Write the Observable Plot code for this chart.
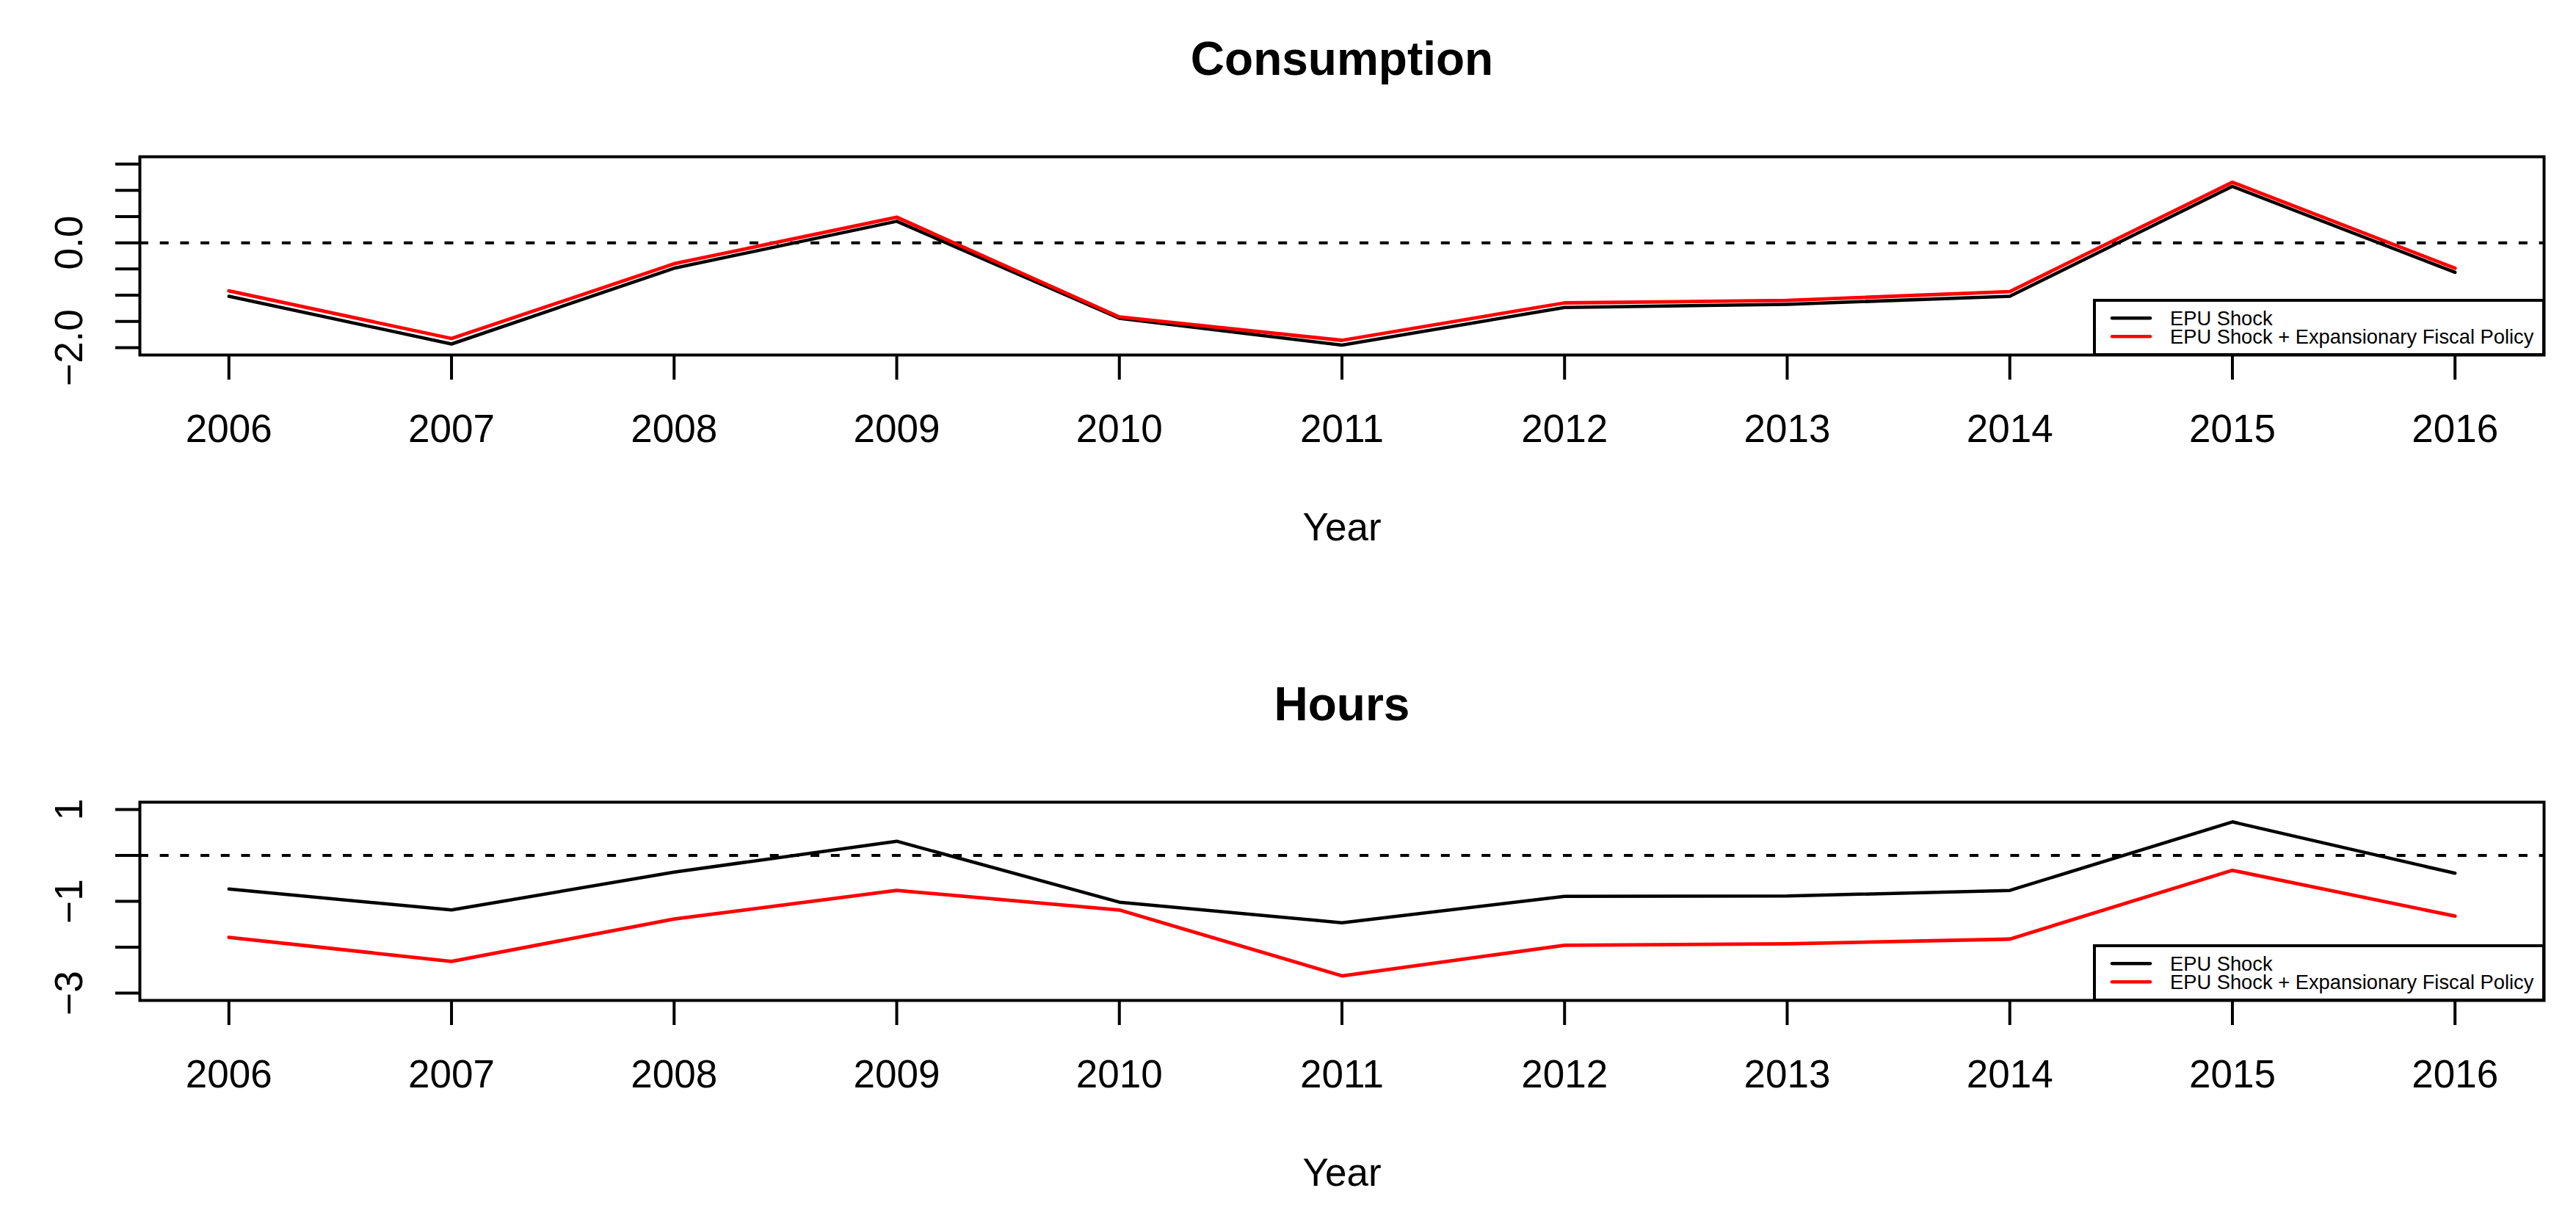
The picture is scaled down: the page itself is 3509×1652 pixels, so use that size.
<!DOCTYPE html>
<html>
<head>
<meta charset="utf-8">
<script src="https://cdn.jsdelivr.net/npm/d3@7"></script>
<script src="https://cdn.jsdelivr.net/npm/@observablehq/plot@0.6"></script>
<style>
  html, body { margin: 0; padding: 0; background: #fff; }
  #chart { position: relative; width: 3509px; height: 1652px; overflow: hidden; background: #fff; }
  .panel { position: relative; width: 3509px; height: 826px; }
  .panel svg.legend { position: absolute; }
</style>
</head>
<body>
<div id="chart"></div>
<script>
// ---------- data ----------
const years = [2006, 2007, 2008, 2009, 2010, 2011, 2012, 2013, 2014, 2015, 2016];
const seriesNames = ["EPU Shock", "EPU Shock + Expansionary Fiscal Policy"];
const seriesColors = ["#000000", "#ff0000"];

const consumptionEPU       = [-1.02, -1.93, -0.485, 0.41, -1.44, -1.95, -1.234, -1.173, -1.02, 1.075, -0.564];
const consumptionEPUFiscal = [-0.918, -1.825, -0.40, 0.488, -1.415, -1.86, -1.146, -1.10, -0.93, 1.154, -0.485];

const hoursEPU       = [-0.731, -1.189, -0.363, 0.309, -1.019, -1.467, -0.891, -0.885, -0.763, 0.731, -0.389];
const hoursEPUFiscal = [-1.787, -2.309, -1.387, -0.763, -1.189, -2.625, -1.957, -1.925, -1.824, -0.325, -1.323];

const consumptionTicks = [-2, -1.5, -1, -0.5, 0, 0.5, 1, 1.5];
const consumptionTickLabels = [{value: -2, label: "\u22122.0"}, {value: 0, label: "0.0"}];
const hoursTicks = [-3, -2, -1, 0, 1];
const hoursTickLabels = [{value: -3, label: "\u22123"}, {value: -1, label: "\u22121"}, {value: 1, label: "1"}];

const consumptionYLimits = [-2, 1.5];
const hoursYLimits = [-3, 1];

// ---------- helpers ----------
const FONT = "'Liberation Sans', Arial, Helvetica, sans-serif";
const W = 3509, H = 826;
const ML = 190, MR = 44;

function rPad([a, b]) { const p = 0.04 * (b - a); return [a - p, b + p]; }
function rows(a, b) {
  const out = [];
  years.forEach((yr, i) => out.push({year: yr, value: a[i], series: seriesNames[0]}));
  years.forEach((yr, i) => out.push({year: yr, value: b[i], series: seriesNames[1]}));
  return out;
}

function panel(cfg) {
  const data = rows(cfg.a, cfg.b);
  const frameH = H - cfg.marginTop - cfg.marginBottom;
  const plot = Plot.plot({
    width: W,
    height: H,
    marginLeft: ML,
    marginRight: MR,
    marginTop: cfg.marginTop,
    marginBottom: cfg.marginBottom,
    style: {fontFamily: FONT, fontSize: "53px", color: "#000", background: "#fff", overflow: "visible"},
    x: {domain: rPad([years[0], years[years.length - 1]]), label: null},
    y: {domain: rPad(cfg.ylim), label: null},
    marks: [
      Plot.ruleY([0], {stroke: "#000", strokeWidth: 4, strokeDasharray: "12,15.7"}),
      Plot.line(data.filter(d => d.series === seriesNames[0]), {x: "year", y: "value", stroke: seriesColors[0], strokeWidth: 4.5, strokeLinejoin: "round", strokeLinecap: "round"}),
      Plot.line(data.filter(d => d.series === seriesNames[1]), {x: "year", y: "value", stroke: seriesColors[1], strokeWidth: 4.8, strokeLinejoin: "round", strokeLinecap: "round"}),
      Plot.frame({stroke: "#000", strokeWidth: 4}),
      Plot.axisX({ticks: years, tickFormat: "d", tickSize: 34, tickPadding: 47, fontSize: 53, strokeWidth: 4, label: null}),
      Plot.axisY({ticks: cfg.ticks, tickFormat: () => "", tickSize: 33, strokeWidth: 4, label: null}),
      Plot.text(cfg.tickLabels, {y: "value", text: "label", frameAnchor: "left", dx: -78.3, rotate: -90, textAnchor: "middle", lineAnchor: "bottom", fontSize: 53, fill: "#000"}),
      Plot.text([cfg.title], {text: d => d, frameAnchor: "top", dy: -112, lineAnchor: "bottom", fontSize: 64, fontWeight: "bold", fill: "#000"}),
      Plot.text(["Year"], {text: d => d, frameAnchor: "bottom", dy: 252, lineAnchor: "bottom", fontSize: 53, fill: "#000"})
    ]
  });

  const div = document.createElement("div");
  div.className = "panel";
  div.appendChild(plot);

  // legend (bottom-right of the frame, R style)
  const boxW = 612, boxH = 74;
  const frameRight = W - MR, frameBottom = cfg.marginTop + frameH;
  const left = frameRight - boxW - 2, top = frameBottom - boxH - 2;
  const svg = d3.create("svg")
    .attr("class", "legend")
    .attr("width", boxW + 4).attr("height", boxH + 4)
    .style("left", left + "px").style("top", top + "px");
  svg.append("rect").attr("x", 2).attr("y", 2).attr("width", boxW).attr("height", boxH)
    .attr("fill", "#fff").attr("stroke", "#000").attr("stroke-width", 4);
  seriesNames.forEach((name, i) => {
    const cy = 26.3 + i * 25;
    svg.append("line").attr("x1", 26).attr("x2", 78).attr("y1", cy).attr("y2", cy)
      .attr("stroke", seriesColors[i]).attr("stroke-width", 4.5).attr("stroke-linecap", "round");
    svg.append("text").attr("x", 105).attr("y", cy + 10).text(name)
      .attr("font-family", FONT).attr("font-size", 27.3).attr("fill", "#000");
  });
  div.appendChild(svg.node());
  return div;
}

const chart = document.getElementById("chart");
chart.appendChild(panel({title: "Consumption", a: consumptionEPU, b: consumptionEPUFiscal, ylim: consumptionYLimits,
  ticks: consumptionTicks, tickLabels: consumptionTickLabels, marginTop: 213, marginBottom: 343}));
chart.appendChild(panel({title: "Hours", a: hoursEPU, b: hoursEPUFiscal, ylim: hoursYLimits,
  ticks: hoursTicks, tickLabels: hoursTickLabels, marginTop: 266, marginBottom: 290}));
</script>
</body>
</html>
